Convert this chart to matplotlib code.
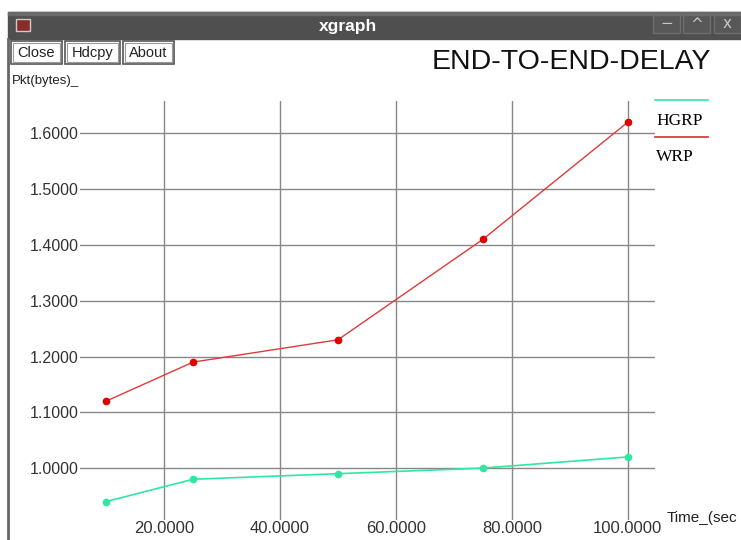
import matplotlib.pyplot as plt
from matplotlib.patches import Rectangle

# data
time_s = [10, 25, 50, 75, 100]
hgrp = [0.94, 0.98, 0.99, 1.00, 1.02]
wrp = [1.12, 1.19, 1.23, 1.41, 1.62]
xticks = [20, 40, 60, 80, 100]
yticks = [1.0, 1.1, 1.2, 1.3, 1.4, 1.5, 1.6]

W, H = 741, 540
fig = plt.figure(figsize=(W / 100, H / 100), dpi=100)
fig.patch.set_facecolor('white')

# window chrome drawn in pixel coordinates
bg = fig.add_axes([0, 0, 1, 1])
bg.set_xlim(0, W)
bg.set_ylim(H, 0)
bg.axis('off')

# title bar
bg.add_patch(Rectangle((8, 12), W - 8, 27, color='#4f4f4f', zorder=1))
bg.add_patch(Rectangle((8, 12), W - 8, 3, color='#6a6a6a', zorder=2))
bg.add_patch(Rectangle((16, 19), 14, 12, facecolor='#8a2c2c', edgecolor='#cccccc', lw=1, zorder=3))
bg.text(348, 26, 'xgraph', color='white', fontsize=12.5, fontweight='bold',
        family='Liberation Sans', ha='center', va='center', zorder=3)
for x0, sym in [(653, '\u2212'), (683, '^'), (714, 'x')]:
    bg.add_patch(Rectangle((x0, 15), 27, 18, facecolor='#585858', edgecolor='#6e6e6e', lw=1, zorder=3))
    bg.text(x0 + 13.5, 24, sym, color='#c8c8c8', fontsize=11, ha='center', va='center',
            family='DejaVu Sans', zorder=4)

# window left border
bg.plot([8, 8], [39, H], color='#666666', lw=2)

# buttons
for x0, w, label in [(11, 51, 'Close'), (65, 55, 'Hdcpy'), (123, 51, 'About')]:
    bg.add_patch(Rectangle((x0, 41), w, 23, facecolor='white', edgecolor='#555555', lw=1.2))
    bg.add_patch(Rectangle((x0 + 2, 43), w - 4, 19, facecolor='none', edgecolor='#999999', lw=0.8))
    bg.text(x0 + w / 2, 53, label, fontsize=10.5, family='Liberation Sans', ha='center',
            va='center', color='#222222')

bg.text(432, 62, 'END-TO-END-DELAY', fontsize=20.5, family='Liberation Sans',
        ha='left', va='center', color='#111111')
bg.text(12, 81, 'Pkt(bytes)_', fontsize=9.5, family='Liberation Sans',
        ha='left', va='center', color='#222222')
bg.text(667, 518, 'Time_(sec', fontsize=11, family='Liberation Sans',
        ha='left', va='center', color='#222222')

# legend
bg.plot([655, 708], [100, 100], color='#2ee8a0', lw=1.2)
bg.text(656, 121, 'HGRP', fontsize=12.5, family='Liberation Serif', ha='left', va='center')
bg.plot([655, 708], [137, 137], color='#d03030', lw=1.2)
bg.text(656, 157, 'WRP', fontsize=12.5, family='Liberation Serif', ha='left', va='center')

# plot area
left, right, top, bottom = 80, 655, 101, 520
ax = fig.add_axes([left / W, 1 - bottom / H, (right - left) / W, (bottom - top) / H])
ax.patch.set_alpha(0)
ax.set_xlim(5.5, 104.7)
ax.set_ylim(0.907, 1.658)
for s in ax.spines.values():
    s.set_visible(False)
ax.set_xticks(xticks)
ax.set_yticks(yticks)
ax.set_xticklabels([f'{v:.4f}' for v in xticks])
ax.set_yticklabels([f'{v:.4f}' for v in yticks])
ax.tick_params(axis='y', length=0, labelsize=11.5, colors='#333333', pad=1)
ax.tick_params(axis='x', length=0, labelsize=12, colors='#333333', pad=1)
for lab in ax.get_xticklabels() + ax.get_yticklabels():
    lab.set_family('Liberation Sans')
ax.grid(True, color='#888888', lw=1)
ax.set_axisbelow(True)

ax.plot(time_s, hgrp, color='#2ee8a0', lw=1.2, marker='o', ms=4.5, clip_on=False)
ax.plot(time_s, wrp, color='#e03a3a', lw=1.0, marker='o', ms=4.5,
        markerfacecolor='#e00000', markeredgecolor='#e00000', clip_on=False)

fig.savefig('out.png', dpi=100)
